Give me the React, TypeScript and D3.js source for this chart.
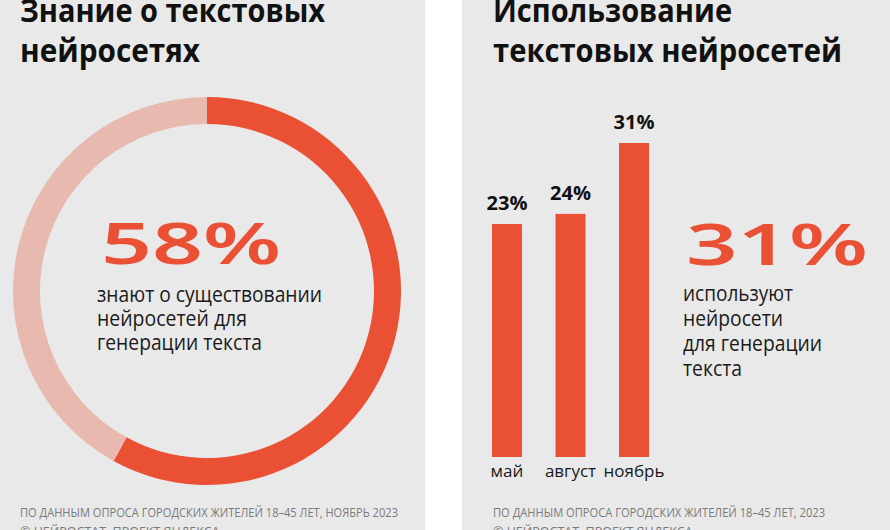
import React from "react";
import * as d3 from "d3";

const leftTitle = ["Знание о текстовых", "нейросетях"];
const rightTitle = ["Использование", "текстовых нейросетей"];
const awareness = 58;
const awarenessText = ["знают о существовании", "нейросетей для", "генерации текста"];
const months = ["май", "август", "ноябрь"];
const usage = [23, 24, 31];
const usageText = ["используют", "нейросети", "для генерации", "текста"];
const footerLeft = ["ПО ДАННЫМ ОПРОСА ГОРОДСКИХ ЖИТЕЛЕЙ 18–45 ЛЕТ, НОЯБРЬ 2023", "© НЕЙРОСТАТ, ПРОЕКТ ЯНДЕКСА"];
const footerRight = ["ПО ДАННЫМ ОПРОСА ГОРОДСКИХ ЖИТЕЛЕЙ 18–45 ЛЕТ, 2023", "© НЕЙРОСТАТ, ПРОЕКТ ЯНДЕКСА"];

const W = 890;
const H = 530;
const BG = "#e9e9e9";
const ORANGE = "#ea5034";
const LIGHT = "#e8b9ae";
const FONT = "'Open Sans', 'Noto Sans', sans-serif";
const BIG_FONT = "'Noto Sans', 'Open Sans', sans-serif";

export default function App() {
  // Donut
  const cx = 207, cy = 291, R = 194, r = 167;
  const pie = d3.pie<number>().sort(null).value((d) => d);
  const arcs = pie([awareness, 100 - awareness]);
  const arc = d3.arc<d3.PieArcDatum<number>>().innerRadius(r).outerRadius(R);

  // Bars
  const x = d3.scaleBand<string>().domain(months).range([492, 649]).paddingInner(0.528).paddingOuter(0);
  const y = d3.scaleLinear().domain([0, 31]).range([457, 143]);
  const fmt = (v: number) => `${v}%`;

  const titleLens = [[305, 180], [239, 349]];
  const leftTextLens = [225, 150, 165];
  const rightTextLens = [110, 100, 139, 59];

  return (
    <svg
      width={W}
      height={H}
      style={{ position: "fixed", left: 0, top: 0, display: "block" }}
      xmlns="http://www.w3.org/2000/svg"
    >
      <rect x={0} y={0} width={W} height={H} fill="#ffffff" />
      <rect x={0} y={0} width={425} height={H} fill={BG} />
      <rect x={462} y={0} width={W - 462} height={H} fill={BG} />

      {/* Left panel */}
      {leftTitle.map((t, i) => (
        <text key={t} x={20} y={22 + i * 40} fontFamily={FONT} fontWeight={700} fontSize={33} fill="#111"
          textLength={titleLens[0][i]} lengthAdjust="spacingAndGlyphs">{t}</text>
      ))}
      <g transform={`translate(${cx},${cy})`}>
        {arcs.map((a, i) => (
          <path key={i} d={arc(a) || ""} fill={i === 0 ? ORANGE : LIGHT} />
        ))}
      </g>
      <text x={101} y={264} fontFamily={BIG_FONT} fontWeight={600} fontSize={58} fill={ORANGE}
        textLength={180} lengthAdjust="spacingAndGlyphs">{fmt(awareness)}</text>
      {awarenessText.map((t, i) => (
        <text key={t} x={97} y={302 + i * 24} fontFamily={FONT} fontSize={21} fill="#1a1a1a"
          textLength={leftTextLens[i]} lengthAdjust="spacingAndGlyphs">{t}</text>
      ))}
      {footerLeft.map((t, i) => (
        <text key={t} x={20} y={517 + i * 19} fontFamily={FONT} fontSize={12.5} fill="#7a7a7a"
          textLength={i === 0 ? 378 : undefined} lengthAdjust="spacingAndGlyphs">{t}</text>
      ))}

      {/* Right panel */}
      {rightTitle.map((t, i) => (
        <text key={t} x={493} y={22 + i * 40} fontFamily={FONT} fontWeight={700} fontSize={33} fill="#111"
          textLength={titleLens[1][i]} lengthAdjust="spacingAndGlyphs">{t}</text>
      ))}
      {months.map((m, i) => (
        <g key={m}>
          <rect x={x(m)} y={y(usage[i])} width={x.bandwidth()} height={y(0) - y(usage[i])} fill={ORANGE} />
          <text x={(x(m) || 0) + x.bandwidth() / 2} y={y(usage[i]) - 14} textAnchor="middle" fontFamily={FONT}
            fontWeight={700} fontSize={20} fill="#111">{fmt(usage[i])}</text>
          <text x={(x(m) || 0) + x.bandwidth() / 2} y={477} textAnchor="middle" fontFamily={FONT}
            fontSize={17} fill="#1a1a1a">{m}</text>
        </g>
      ))}
      <text x={686} y={265} fontFamily={BIG_FONT} fontWeight={600} fontSize={58} fill={ORANGE}
        textLength={182} lengthAdjust="spacingAndGlyphs">{fmt(usage[usage.length - 1])}</text>
      {usageText.map((t, i) => (
        <text key={t} x={683} y={301 + i * 25} fontFamily={FONT} fontSize={21} fill="#1a1a1a"
          textLength={rightTextLens[i]} lengthAdjust="spacingAndGlyphs">{t}</text>
      ))}
      {footerRight.map((t, i) => (
        <text key={t} x={493} y={517 + i * 19} fontFamily={FONT} fontSize={12.5} fill="#7a7a7a"
          textLength={i === 0 ? 332 : undefined} lengthAdjust="spacingAndGlyphs">{t}</text>
      ))}
    </svg>
  );
}
